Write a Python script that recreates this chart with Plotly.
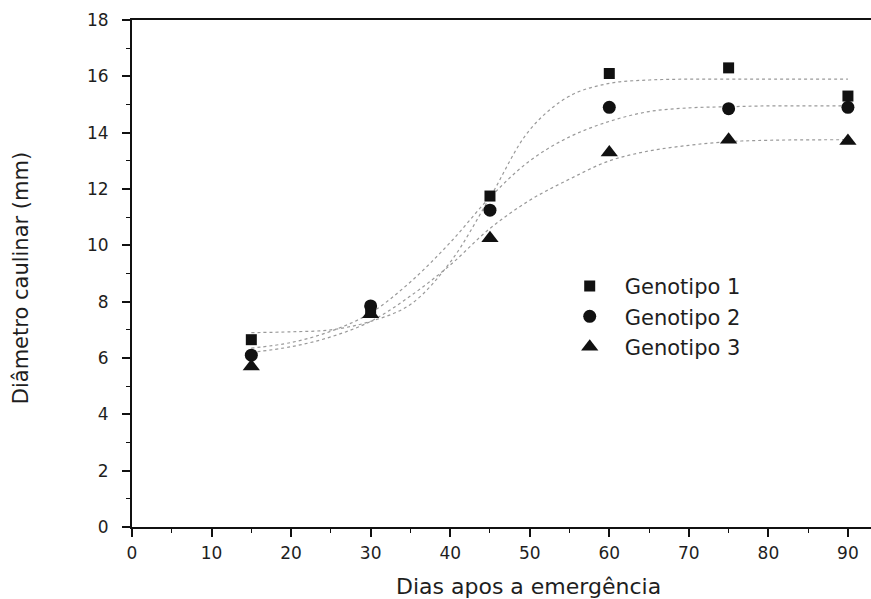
import plotly.graph_objects as go

# Observed data (days after emergence vs stem diameter, mm)
dias = [15, 30, 45, 60, 75, 90]
genotipo1 = [6.65, 7.7, 11.75, 16.1, 16.3, 15.3]
genotipo2 = [6.1, 7.85, 11.25, 14.9, 14.85, 14.9]
genotipo3 = [5.7, 7.55, 10.25, 13.3, 13.75, 13.7]

# Fitted curves
curva_x = [15, 20, 25, 30, 35, 40, 45, 50, 55, 60, 65, 70, 75, 80, 90]
curva1 = [6.9, 6.93, 7.0, 7.3, 7.9, 9.4, 11.7, 14.1, 15.3, 15.75, 15.87, 15.9, 15.9, 15.9, 15.9]
curva2 = [6.35, 6.55, 6.95, 7.6, 8.7, 10.1, 11.7, 13.0, 13.85, 14.4, 14.75, 14.88, 14.92, 14.95, 14.95]
curva3 = [6.2, 6.4, 6.75, 7.3, 8.2, 9.3, 10.6, 11.6, 12.35, 13.0, 13.35, 13.55, 13.68, 13.73, 13.75]

nomes = ["Genotipo 1", "Genotipo 2", "Genotipo 3"]
x_ticks = [0, 10, 20, 30, 40, 50, 60, 70, 80, 90]
y_ticks = [0, 2, 4, 6, 8, 10, 12, 14, 16, 18]
x_titulo = "Dias apos a emergência"
y_titulo = "Diâmetro caulinar (mm)"

FONT = "'DejaVu Sans', Arial, sans-serif"
TXT = "#1e1e1e"

fig = go.Figure()
for cy in (curva1, curva2, curva3):
    fig.add_trace(go.Scatter(
        x=curva_x, y=cy, mode="lines", showlegend=False, hoverinfo="skip",
        line=dict(color="#9a9a9a", width=1.2, dash="dot", shape="spline", smoothing=1.0)))

simbolos = ["square", "circle", "triangle-up"]
tamanhos = [11, 13, 15]
for nome, ys, sym, sz in zip(nomes, (genotipo1, genotipo2, genotipo3), simbolos, tamanhos):
    fig.add_trace(go.Scatter(
        x=dias, y=ys, mode="markers", name=nome,
        marker=dict(symbol=sym, size=sz, color="#111111")))

fig.update_layout(
    width=871, height=599,
    margin=dict(l=132, r=0, t=20, b=72),
    paper_bgcolor="white", plot_bgcolor="white",
    font=dict(family=FONT, color=TXT, size=17),
    legend=dict(x=0.572, y=0.515, xanchor="left", yanchor="top",
                font=dict(size=21, color=TXT), bgcolor="rgba(0,0,0,0)",
                itemsizing="trace", itemwidth=60),
    annotations=[
        dict(text=x_titulo, xref="paper", yref="paper", x=0.536, y=-0.118,
             xanchor="center", yanchor="middle", showarrow=False,
             font=dict(size=22, color=TXT)),
        dict(text=y_titulo, xref="paper", yref="paper", x=-0.150, y=0.491,
             xanchor="center", yanchor="middle", showarrow=False, textangle=-90,
             font=dict(size=21, color=TXT)),
    ],
)
fig.update_xaxes(
    range=[0, 92.9], tickvals=x_ticks, ticks="outside", ticklen=8, tickwidth=1.5,
    tickcolor="#111111", showline=True, linecolor="#111111", linewidth=2,
    mirror=True, showgrid=False, zeroline=False, ticklabelstandoff=2,
    tickfont=dict(size=17, color=TXT),
    minor=dict(dtick=5, tick0=0, ticks="outside", ticklen=4, tickcolor="#111111", tickwidth=1.2),
)
fig.update_yaxes(
    range=[0, 18], tickvals=y_ticks, ticks="outside", ticklen=8, tickwidth=1.5,
    tickcolor="#111111", showline=True, linecolor="#111111", linewidth=2,
    mirror=False, showgrid=False, zeroline=False, ticklabelstandoff=10,
    tickfont=dict(size=17, color=TXT),
    minor=dict(dtick=1, tick0=0, ticks="outside", ticklen=4, tickcolor="#111111", tickwidth=1.2),
)

fig.write_html("out.html")
